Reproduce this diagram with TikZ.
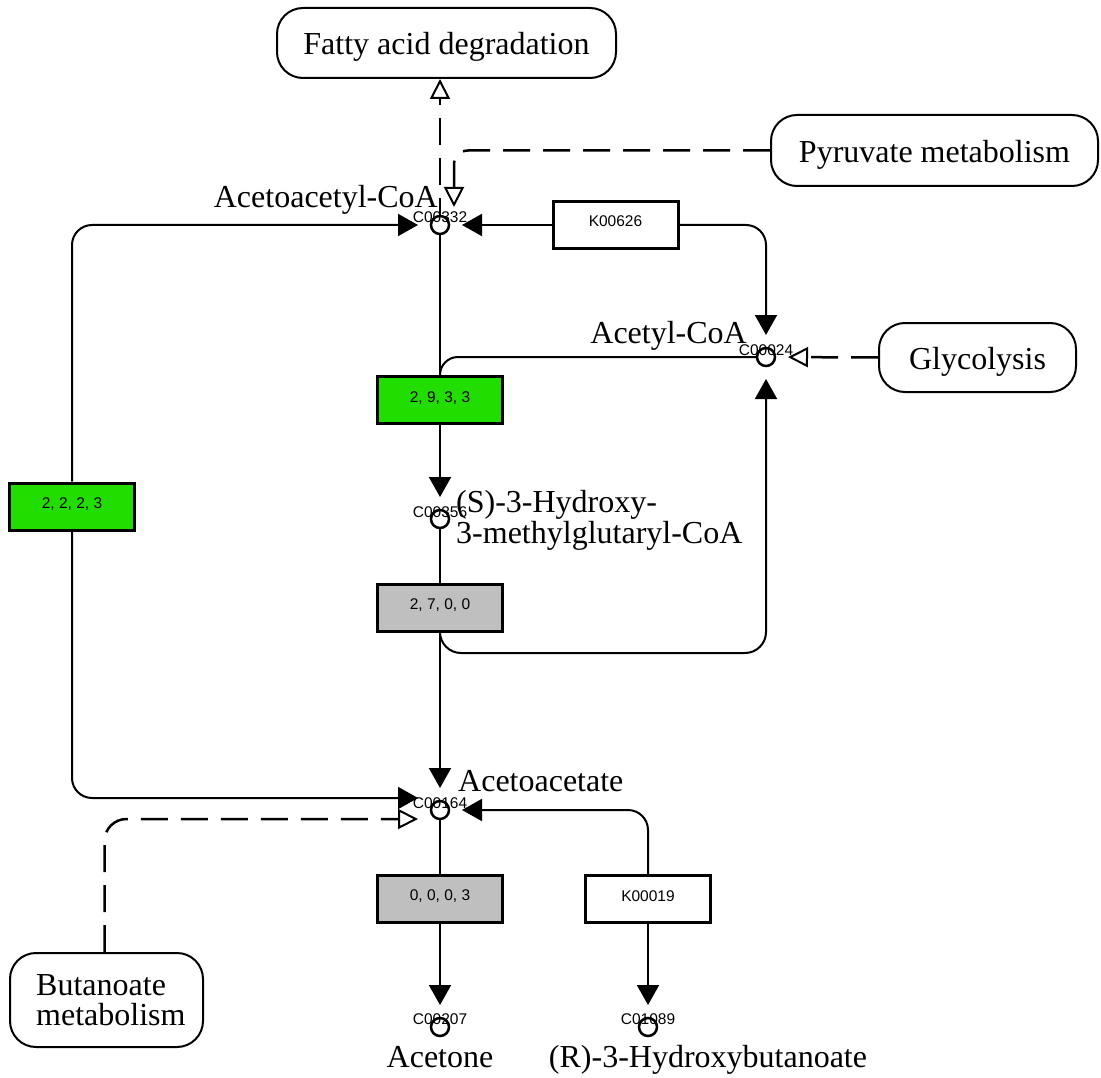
\documentclass[tikz,border=0pt]{standalone}
\usepackage{fontspec}
\setmainfont{Liberation Serif}
\newfontfamily\idfont{Liberation Sans}
\usetikzlibrary{arrows.meta}
\pgfdeclarelayer{bg}
\pgfsetlayers{bg,main}

\definecolor{hitgreen}{RGB}{34,221,0}
\definecolor{partgray}{RGB}{191,191,191}

\begin{document}
\begin{tikzpicture}[x=1pt,y=-1pt,
  lbl/.style={font=\fontsize{32}{29}\selectfont, inner sep=0pt, align=left},
  cid/.style={font=\idfont\fontsize{15.5}{16}\selectfont, inner sep=0pt},
  cpd/.style={circle, draw, line width=2.5pt, fill=white, minimum size=18pt,
              inner sep=0pt, outer sep=13pt},
  enz/.style={draw, line width=3pt, minimum width=125pt, minimum height=47pt,
              inner sep=0pt, font=\idfont\fontsize{15.5}{16}\selectfont,
              text height=12pt, text depth=8pt},
  pmap/.style={draw, line width=2pt, fill=white, rounded corners=26pt,
               inner sep=0pt, font=\fontsize{32}{30}\selectfont, align=left},
  onerow/.style={text height=28pt, text depth=4pt},
  flow/.style={line width=2pt},
  link/.style={line width=2.5pt, dash pattern=on 27pt off 13pt},
  fwd/.style={-{Triangle[length=20pt,width=22pt]}},
  opn/.style={-{Triangle[fill=white,length=20pt,width=20pt,line width=2pt]}},
]
\useasboundingbox (0,0) rectangle (1101,1078);

% pathway maps
\node[pmap, onerow, minimum width=339pt, minimum height=70pt] (fatty) at (446.5,43) {Fatty acid degradation};
\node[pmap, onerow, minimum width=327pt, minimum height=71pt] (pyruvate) at (934.5,150.5) {Pyruvate metabolism};
\node[pmap, onerow, minimum width=197pt, minimum height=69pt] (glycolysis) at (977.5,357.5) {Glycolysis};
\node[pmap, minimum width=193pt, minimum height=94pt] (butanoate) at (106.5,1000) {};
\node[lbl, font=\fontsize{32}{30}\selectfont, anchor=base west] at (36,1025) {Butanoate\\metabolism};

% enzymes
\node[enz] (k00626) at (615.5,225) {K00626};
\node[enz, fill=hitgreen] (e2933) at (440,400) {2, 9, 3, 3};
\node[enz, fill=hitgreen] (e2223) at (72,506.5) {2, 2, 2, 3};
\node[enz, fill=partgray] (e2700) at (440,607.5) {2, 7, 0, 0};
\node[enz, fill=partgray] (e0003) at (440,898.5) {0, 0, 0, 3};
\node[enz] (k00019) at (648,899) {K00019};

% compounds
\node[cpd] (c00332) at (440,225) {};
\node[cpd] (c00024) at (766,357) {};
\node[cpd] (c00356) at (440,519) {};
\node[cpd] (c00164) at (440,810) {};
\node[cpd] (c00207) at (440,1027) {};
\node[cpd] (c01089) at (648,1027) {};

\coordinate (lyase) at (766,653);
\coordinate (pyrtip) at (454,207);

\begin{pgfonlayer}{bg}
\fill[white] (0,0) rectangle (1101,1078);
% ketogenesis trunk
\draw[flow] (c00332.center) -- (e2933.north);
\draw[flow, fwd] (e2933.south) -- (c00356);
\draw[flow] (c00356.center) -- (e2700.north);
\draw[flow, fwd] (e2700.south) -- (c00164);
\draw[flow] (c00164.center) -- (e0003.north);
\draw[flow, fwd] (e0003.south) -- (c00207);
% acetyl-CoA enters the synthase step
\draw[flow, rounded corners=18pt] (c00024.center) -| (e2933.north);
% lyase releases acetyl-CoA
\draw[flow, fwd, rounded corners=21pt] (e2700.south) |- (lyase) -- (c00024);
% thiolase
\draw[flow, fwd] (k00626.west) -- (c00332);
\draw[flow, fwd, rounded corners=20pt] (k00626.east) -| (c00024);
% CoA transferase loop
\draw[flow, fwd, rounded corners=20pt] (e2223.north) |- (c00332);
\draw[flow, fwd, rounded corners=20pt] (e2223.south) |- ([yshift=12pt]c00164.west);
% 3-hydroxybutyrate dehydrogenase
\draw[flow, fwd, rounded corners=20pt] (k00019.north) |- (c00164);
\draw[flow, fwd] (k00019.south) -- (c01089);
% links to other maps
\draw[link, opn] (c00332.center) -- (c00332 |- fatty.south);
\draw[link, opn, rounded corners=14pt] (pyruvate.west) -| (pyrtip);
\draw[link, opn] (glycolysis.west) -- (c00024);
\draw[link, opn, rounded corners=22pt] ([xshift=-2pt]butanoate.north) |- ([yshift=-9pt]c00164.west);
\end{pgfonlayer}

% compound identifiers
\node[cid, anchor=base] at ([yshift=2pt]c00332.center) {C00332};
\node[cid, anchor=base] at ([yshift=2pt]c00024.center) {C00024};
\node[cid, anchor=base] at ([yshift=2pt]c00356.center) {C00356};
\node[cid, anchor=base] at ([yshift=2pt]c00164.center) {C00164};
\node[cid, anchor=base] at ([yshift=3pt]c00207.center) {C00207};
\node[cid, anchor=base] at ([yshift=3pt]c01089.center) {C01089};

% compound names
\node[lbl, anchor=base east] at (438,208) {Acetoacetyl-CoA};
\node[lbl, anchor=base east] at (747,343) {Acetyl-CoA};
\node[lbl, anchor=base west] at (456,543) {(S)-3-Hydroxy-\\3-methylglutaryl-CoA};
\node[lbl, anchor=base west] at (458,791) {Acetoacetate};
\node[lbl, anchor=base] at (440,1067) {Acetone};
\node[lbl, anchor=base] at (708,1067) {(R)-3-Hydroxybutanoate};
\end{tikzpicture}
\end{document}
